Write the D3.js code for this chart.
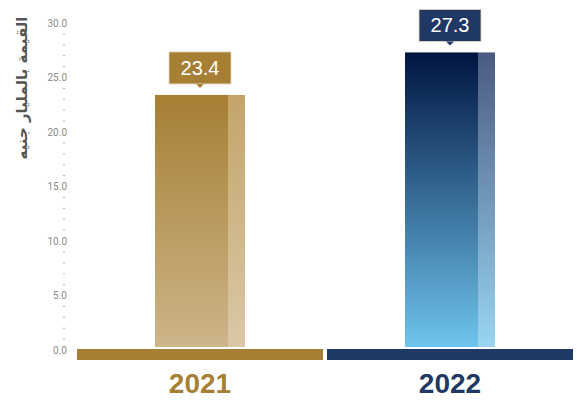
<!DOCTYPE html>
<html>
<head>
<meta charset="utf-8">
<script src="https://cdn.jsdelivr.net/npm/d3@7"></script>
<style>
body { margin: 0; background: #fff; }
svg { display: block; }
</style>
</head>
<body>
<div id="vis"></div>
<script>
const years = ["2021", "2022"];
const values = [23.4, 27.3];
const majorTicks = [0, 5, 10, 15, 20, 25, 30];
const minorTicks = d3.range(0, 31, 1);
const yTitle = "القيمة بالمليار جنيه";

const width = 577, height = 401;

const svg = d3.select("#vis").append("svg")
  .attr("width", width)
  .attr("height", height);

const y = d3.scaleLinear().domain([0, 30]).range([350, 23]);
const band = d3.scaleBand().domain(years).range([77, 573]).paddingInner(0.016);

const palette = {
  "2021": { base: "#a67f34", top: "#a67f34", bottom: "#cdb58a", stripTop: "#c4a46c", stripBottom: "#dac8a6", text: "#a67f34" },
  "2022": { base: "#1f3864", top: "#001540", bottom: "#6ec4ed", stripTop: "#4a5a80", stripBottom: "#9ad5f1", text: "#1f3864" }
};

const defs = svg.append("defs");
years.forEach(function(yr) {
  const p = palette[yr];
  const g1 = defs.append("linearGradient").attr("id", "main" + yr)
    .attr("x1", 0).attr("y1", 0).attr("x2", 0).attr("y2", 1);
  g1.append("stop").attr("offset", "0%").attr("stop-color", p.top);
  g1.append("stop").attr("offset", "100%").attr("stop-color", p.bottom);
  const g2 = defs.append("linearGradient").attr("id", "strip" + yr)
    .attr("x1", 0).attr("y1", 0).attr("x2", 0).attr("y2", 1);
  g2.append("stop").attr("offset", "0%").attr("stop-color", p.stripTop);
  g2.append("stop").attr("offset", "100%").attr("stop-color", p.stripBottom);
});

// y axis labels
svg.append("g").selectAll("text")
  .data(majorTicks)
  .enter().append("text")
  .attr("x", 67)
  .attr("y", d => y(d) + 3.5)
  .attr("text-anchor", "end")
  .style("font-family", "Roboto, sans-serif")
  .style("font-size", "10px")
  .style("fill", "#8a8a8a")
  .text(d => d.toFixed(1));

// minor dashes
svg.append("g").selectAll("line")
  .data(minorTicks.filter(d => d % 5 !== 0))
  .enter().append("line")
  .attr("x1", 63).attr("x2", 65)
  .attr("y1", d => y(d)).attr("y2", d => y(d))
  .attr("stroke", "#aaa")
  .attr("stroke-width", 1);

// axis title
svg.append("text")
  .attr("transform", "translate(27,88) rotate(-90)")
  .attr("text-anchor", "middle")
  .style("font-family", "'DejaVu Sans', sans-serif")
  .style("font-size", "15px")
  .style("font-weight", "600")
  .style("fill", "#555")
  .text(yTitle);

const barW = 90, stripW = 17;
const g = svg.append("g").selectAll("g")
  .data(years.map((yr, i) => ({ year: yr, value: values[i] })))
  .enter().append("g");

// baseline bands
g.append("rect")
  .attr("x", d => band(d.year))
  .attr("y", 349)
  .attr("width", band.bandwidth())
  .attr("height", 11)
  .attr("fill", d => palette[d.year].base);

// bars
g.append("rect")
  .attr("x", d => band(d.year) + band.bandwidth() / 2 - barW / 2)
  .attr("y", d => y(d.value))
  .attr("width", barW - stripW)
  .attr("height", d => 347 - y(d.value))
  .attr("fill", d => "url(#main" + d.year + ")");

g.append("rect")
  .attr("x", d => band(d.year) + band.bandwidth() / 2 + barW / 2 - stripW)
  .attr("y", d => y(d.value))
  .attr("width", stripW)
  .attr("height", d => 347 - y(d.value))
  .attr("fill", d => "url(#strip" + d.year + ")");

// callouts
const boxW = 62, boxH = 32;
g.append("rect")
  .attr("x", d => band(d.year) + band.bandwidth() / 2 - boxW / 2)
  .attr("y", d => y(d.value) - 43)
  .attr("width", boxW)
  .attr("height", boxH)
  .attr("fill", d => palette[d.year].base)
  .attr("stroke", "#e8dcc4")
  .attr("stroke-width", 0.8);

g.append("path")
  .attr("d", d => {
    const cx = band(d.year) + band.bandwidth() / 2;
    const by = y(d.value) - 11;
    return "M" + (cx - 4) + "," + by + "L" + (cx + 4) + "," + by + "L" + cx + "," + (by + 4) + "Z";
  })
  .attr("fill", d => palette[d.year].base);

g.append("text")
  .attr("x", d => band(d.year) + band.bandwidth() / 2)
  .attr("y", d => y(d.value) - 20)
  .attr("text-anchor", "middle")
  .style("font-family", "'Liberation Sans', Arial, sans-serif")
  .style("font-size", "20px")
  .style("fill", "#fff")
  .text(d => d.value.toFixed(1));

// year labels
g.append("text")
  .attr("x", d => band(d.year) + band.bandwidth() / 2)
  .attr("y", 393)
  .attr("text-anchor", "middle")
  .style("font-family", "'Liberation Sans', Arial, sans-serif")
  .style("font-size", "28px")
  .style("font-weight", "bold")
  .style("fill", d => palette[d.year].text)
  .text(d => d.year);
</script>
</body>
</html>
